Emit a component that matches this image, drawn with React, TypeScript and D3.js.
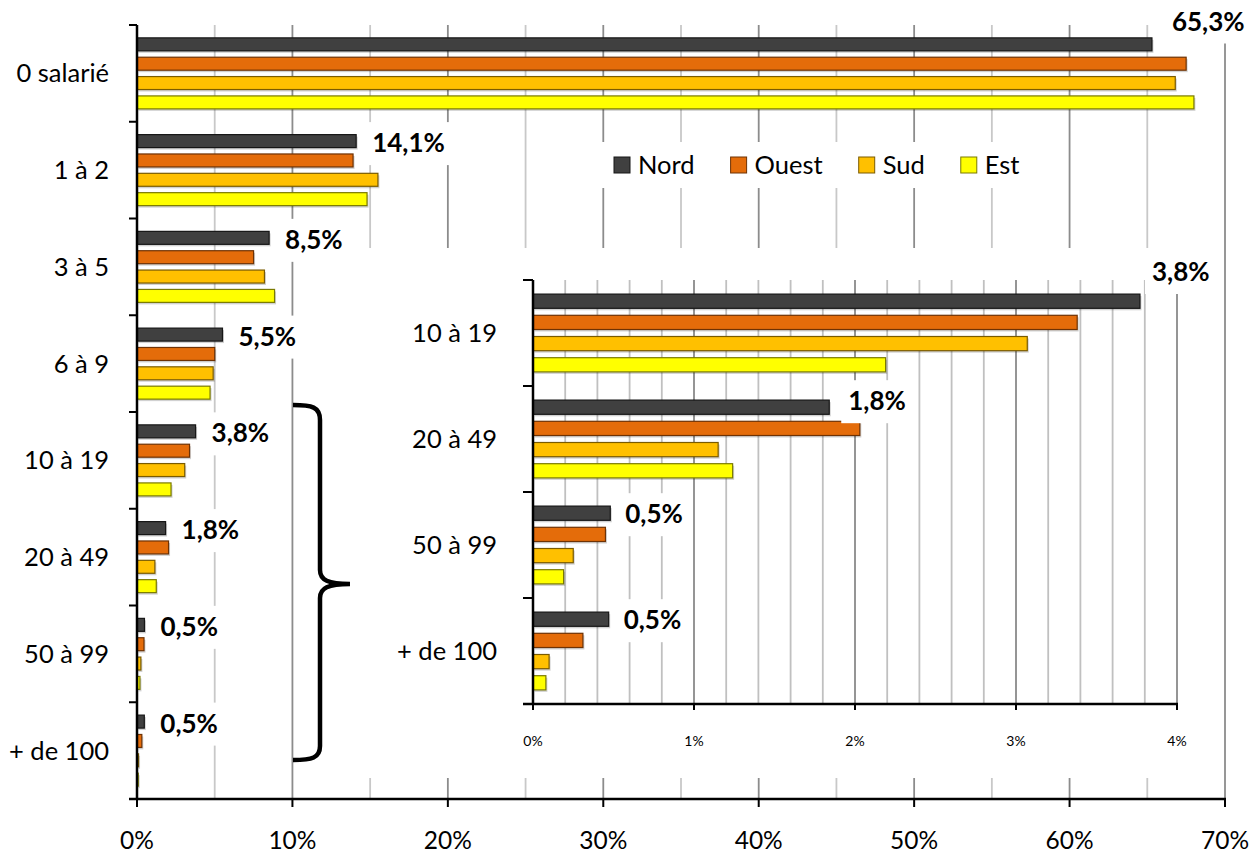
import React, { useEffect, useRef } from "react";
import * as d3 from "d3";

const categories = ["0 salarié", "1 à 2", "3 à 5", "6 à 9", "10 à 19", "20 à 49", "50 à 99", "+ de 100"];
const seriesNames = ["Nord", "Ouest", "Sud", "Est"];
const nord = [65.3, 14.1, 8.5, 5.5, 3.77, 1.84, 0.48, 0.47];
const ouest = [67.5, 13.9, 7.5, 5.0, 3.38, 2.03, 0.45, 0.31];
const sud = [66.8, 15.5, 8.2, 4.9, 3.07, 1.15, 0.25, 0.1];
const est = [68.0, 14.8, 8.85, 4.7, 2.19, 1.24, 0.19, 0.08];
const mainTicks = [0, 10, 20, 30, 40, 50, 60, 70];
const insetCategories = ["10 à 19", "20 à 49", "50 à 99", "+ de 100"];
const insetTicks = [0, 1, 2, 3, 4];

const fills = ["#404040", "#E46C0A", "#FFC000", "#FFFF00"];
const strokes = ["#161616", "#6e3204", "#7a5b00", "#7a7a00"];
const FONT = "Lato, 'Open Sans', sans-serif";

export default function App() {
  const ref = useRef<SVGSVGElement>(null);
  useEffect(() => {
    const svg = d3.select(ref.current);
    svg.selectAll("*").remove();
    const values = [nord, ouest, sud, est];
    const fmt = (v: number) => d3.format(".1f")(v).replace(".", ",") + "%";

    const label = (g: any, text: string, x: number, yc: number, anchor = "start") => {
      const bg = g.append("rect").attr("fill", "#fff");
      const t = g
        .append("text")
        .attr("x", x)
        .attr("y", yc + 9)
        .attr("text-anchor", anchor)
        .attr("font-family", FONT)
        .attr("font-weight", "bold")
        .attr("font-size", 26)
        .attr("fill", "#000")
        .text(text);
      const b = (t.node() as SVGTextElement).getBBox();
      bg.attr("x", b.x - 7).attr("y", yc - 21).attr("width", b.width + 14).attr("height", 43);
    };

    const drawBars = (g: any, cats: string[], offset: number, x: any, y: any) => {
      const ys = d3
        .scaleBand()
        .domain(seriesNames)
        .range([0.1 * y.bandwidth(), 0.9 * y.bandwidth()])
        .paddingInner(0.33)
        .paddingOuter(0.165);
      cats.forEach((c, i) => {
        seriesNames.forEach((s, k) => {
          const v = values[k][i + offset];
          const yy = (y(c) as number) + (ys(s) as number);
          g.append("rect")
            .attr("x", x(0) + 1.5)
            .attr("y", yy + 2)
            .attr("width", Math.max(0, x(v) - x(0)))
            .attr("height", ys.bandwidth())
            .attr("fill", "#000")
            .attr("opacity", 0.18);
          g.append("rect")
            .attr("x", x(0))
            .attr("y", yy)
            .attr("width", Math.max(0, x(v) - x(0)))
            .attr("height", ys.bandwidth())
            .attr("fill", fills[k])
            .attr("stroke", strokes[k])
            .attr("stroke-width", 1.2);
        });
      });
      return ys;
    };

    // ---------- main chart ----------
    const x = d3.scaleLinear().domain([0, 70]).range([137, 1225]);
    const y = d3.scaleBand().domain(categories).range([25, 799]);
    const g = svg.append("g");
    d3.range(5, 71, 5).forEach((v) => {
      g.append("line")
        .attr("x1", x(v))
        .attr("x2", x(v))
        .attr("y1", 25)
        .attr("y2", 799)
        .attr("stroke", v % 10 === 0 ? "#8c8c8c" : "#c8c8c8")
        .attr("stroke-width", 1.8);
    });
    const ys = drawBars(g, categories, 0, x, y);
    categories.forEach((c, i) => {
      const v = nord[i];
      const barC = (y(c) as number) + (ys("Nord") as number) + ys.bandwidth() / 2;
      if (i === 0) label(g, fmt(v), x(v) + 20, (y(c) as number) - 3.5);
      else label(g, fmt(v), x(v) + 16, barC + 2);
    });
    // axes
    g.append("line").attr("x1", 137).attr("x2", 137).attr("y1", 25).attr("y2", 800).attr("stroke", "#000").attr("stroke-width", 2.5);
    g.append("line").attr("x1", 129).attr("x2", 1226).attr("y1", 799).attr("y2", 799).attr("stroke", "#000").attr("stroke-width", 2.5);
    [...categories.map((c) => y(c) as number), 799].forEach((yy) => {
      g.append("line").attr("x1", 129).attr("x2", 137).attr("y1", yy).attr("y2", yy).attr("stroke", "#000").attr("stroke-width", 2);
    });
    mainTicks.forEach((t) => {
      g.append("line").attr("x1", x(t)).attr("x2", x(t)).attr("y1", 799).attr("y2", 807).attr("stroke", "#000").attr("stroke-width", 2);
      g.append("text")
        .attr("x", x(t))
        .attr("y", 849)
        .attr("text-anchor", "middle")
        .attr("font-family", FONT)
        .attr("font-size", 24.5)
        .text(t + "%");
    });
    categories.forEach((c) => {
      g.append("text")
        .attr("x", 109)
        .attr("y", (y(c) as number) + y.bandwidth() / 2 + 9)
        .attr("text-anchor", "end")
        .attr("font-family", FONT)
        .attr("font-size", 25.5)
        .text(c);
    });

    // ---------- legend ----------
    const lg = svg.append("g");
    lg.append("rect").attr("x", 598).attr("y", 142).attr("width", 437).attr("height", 46).attr("fill", "#fff");
    let lx = 614;
    seriesNames.forEach((s, k) => {
      lg.append("rect").attr("x", lx).attr("y", 157).attr("width", 16).attr("height", 16).attr("fill", fills[k]).attr("stroke", strokes[k]).attr("stroke-width", 1);
      const t = lg
        .append("text")
        .attr("x", lx + 24)
        .attr("y", 165 + 9)
        .attr("font-family", FONT)
        .attr("font-size", 25.5)
        .text(s);
      lx = lx + 24 + (t.node() as SVGTextElement).getComputedTextLength() + 36;
    });

    // ---------- inset ----------
    const ig = svg.append("g");
    ig.append("rect").attr("x", 360).attr("y", 248).attr("width", 862).attr("height", 530).attr("fill", "#fff");
    const xi = d3.scaleLinear().domain([0, 4]).range([533, 1177]);
    const yi = d3.scaleBand().domain(insetCategories).range([280, 704]);
    d3.range(1, 21).forEach((k) => {
      const v = k * 0.2;
      ig.append("line")
        .attr("x1", xi(v))
        .attr("x2", xi(v))
        .attr("y1", 280)
        .attr("y2", 704)
        .attr("stroke", k % 5 === 0 ? "#8a8a8a" : "#c0c0c0")
        .attr("stroke-width", 1.8);
    });
    const ysi = drawBars(ig, insetCategories, 4, xi, yi);
    insetCategories.forEach((c, i) => {
      const v = nord[i + 4];
      const barC = (yi(c) as number) + (ysi("Nord") as number) + ysi.bandwidth() / 2;
      if (i === 0) label(ig, fmt(v), xi(v) + 12, 272);
      else if (i === 1) label(ig, fmt(v), xi(v) + 19, barC - 6);
      else label(ig, fmt(v), xi(v) + 15, barC + 1);
    });
    ig.append("line").attr("x1", 533).attr("x2", 533).attr("y1", 280).attr("y2", 705).attr("stroke", "#000").attr("stroke-width", 2.5);
    ig.append("line").attr("x1", 523).attr("x2", 1178).attr("y1", 704).attr("y2", 704).attr("stroke", "#000").attr("stroke-width", 2.5);
    [...insetCategories.map((c) => yi(c) as number), 704].forEach((yy) => {
      ig.append("line").attr("x1", 523).attr("x2", 533).attr("y1", yy).attr("y2", yy).attr("stroke", "#000").attr("stroke-width", 2);
    });
    insetTicks.forEach((t) => {
      ig.append("line").attr("x1", xi(t)).attr("x2", xi(t)).attr("y1", 704).attr("y2", 710).attr("stroke", "#000").attr("stroke-width", 2);
      ig.append("text")
        .attr("x", xi(t))
        .attr("y", 746)
        .attr("text-anchor", "middle")
        .attr("font-family", FONT)
        .attr("font-size", 14)
        .text(t + "%");
    });
    insetCategories.forEach((c) => {
      ig.append("text")
        .attr("x", 497)
        .attr("y", (yi(c) as number) + yi.bandwidth() / 2 + 9)
        .attr("text-anchor", "end")
        .attr("font-family", FONT)
        .attr("font-size", 25.5)
        .text(c);
    });

    // ---------- brace ----------
    svg
      .append("path")
      .attr(
        "d",
        "M293,405 C312,405 320,407 320,420 L320,570 C320,580 328,584 350,584 C328,584 320,588 320,598 L320,746 C320,758 312,760 293,760"
      )
      .attr("fill", "none")
      .attr("stroke", "#000")
      .attr("stroke-width", 4.5);
  }, []);

  return (
    <svg
      ref={ref}
      width={1260}
      height={854}
      style={{ position: "absolute", left: 0, top: 0, background: "#fff", display: "block" }}
    />
  );
}
